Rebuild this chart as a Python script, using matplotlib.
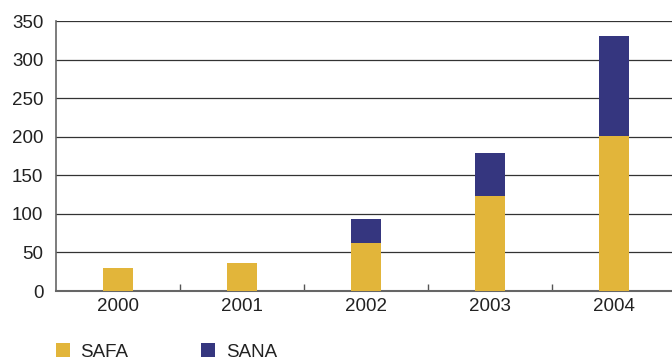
import matplotlib.pyplot as plt
import numpy as np
from matplotlib.patches import Patch

plt.rcParams['font.family'] = ['Liberation Sans', 'DejaVu Sans']

years = ['2000', '2001', '2002', '2003', '2004']
safa = [30, 36, 62, 123, 201]
sana = [0, 0, 31, 56, 130]

safa_color = '#E2B53A'
sana_color = '#35367F'

fig = plt.figure(figsize=(6.72, 3.63), dpi=100)
ax = fig.add_axes([0.0833, 0.1983, 0.9227, 0.7438])

x = np.arange(len(years))
ax.bar(x, safa, width=0.24, color=safa_color, zorder=3)
ax.bar(x, sana, width=0.24, bottom=safa, color=sana_color, zorder=3)

ax.set_xlim(-0.5, len(years) - 0.5)
ax.set_ylim(0, 350)
ax.set_yticks(range(0, 351, 50))
ax.set_xticks(x)
ax.set_xticklabels(years)
ax.set_xticks(x[:-1] + 0.5, minor=True)

ax.yaxis.grid(True, color='#333333', linewidth=0.9, zorder=0)
ax.tick_params(axis='y', length=0, labelsize=13.5, pad=9, colors='#222222')
ax.tick_params(axis='x', which='major', length=0, labelsize=13.5, pad=5, colors='#222222')
ax.tick_params(axis='x', which='minor', direction='in', length=5, width=1, color='#555555')

for side in ['top', 'right']:
    ax.spines[side].set_visible(False)
ax.spines['left'].set_color('#666666')
ax.spines['bottom'].set_color('#666666')
ax.spines['left'].set_linewidth(1.2)
ax.spines['bottom'].set_linewidth(1.5)

handles = [Patch(facecolor=safa_color, label='SAFA'),
           Patch(facecolor=sana_color, label='SANA')]
fig.legend(handles=handles, loc='lower left', bbox_to_anchor=(0.058, -0.04),
           ncol=2, frameon=False, fontsize=13.5, handlelength=0.75, handleheight=0.75,
           handletextpad=0.55, columnspacing=3.9, labelcolor='#222222')

fig.savefig('out.png', dpi=100)
